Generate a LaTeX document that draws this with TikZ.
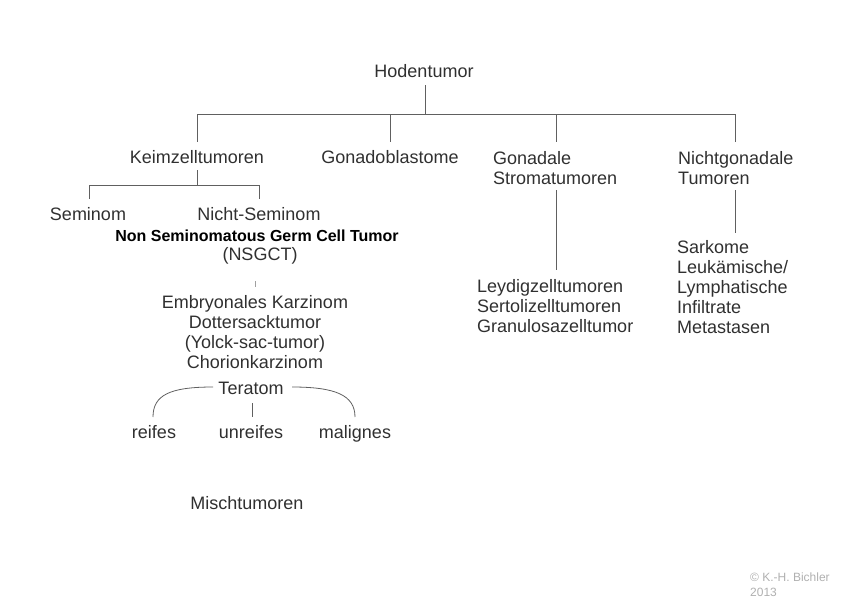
\documentclass[tikz,border=0pt]{standalone}
\usepackage{fontspec}
\setmainfont{Liberation Sans}
\definecolor{txtc}{HTML}{303030}
\definecolor{linec}{HTML}{606060}
\definecolor{copyc}{HTML}{B0B0B0}
\tikzset{
  txt/.style={font=\fontsize{18}{20}\selectfont, text=txtc, inner sep=0pt, anchor=base},
  txtl/.style={txt, anchor=base west, align=left},
  txtc/.style={txt, align=center},
  boldtxt/.style={font=\fontsize{16}{20}\selectfont\bfseries, text=black, inner sep=0pt, anchor=base},
  copytxt/.style={font=\fontsize{12}{15}\selectfont, text=copyc, inner sep=0pt, anchor=base west, align=left},
  conn/.style={draw=linec, line width=0.9pt},
  tick/.style={draw=linec!60, line width=0.8pt}
}
\begin{document}
\begin{tikzpicture}[x=1pt,y=-1pt]
\useasboundingbox (0,0) rectangle (849,600);
% nodes (multi-line nodes are placed by the baseline of their last line)
\node[txt] (hoden) at (424,77) {Hodentumor};
\node[txt] (keim) at (197,163) {Keimzelltumoren};
\node[txt] (gonado) at (390,163) {Gonadoblastome};
\node[txtl] (gonadale) at (493,184) {Gonadale\\Stromatumoren};
\node[txtl] (nichtgon) at (678,184) {Nichtgonadale\\Tumoren};
\node[txt] (semi) at (88,220) {Seminom};
\node[txt] (nsemi) at (259,220) {Nicht-Seminom};
\node[boldtxt] (nsgct) at (257,241) {Non Seminomatous Germ Cell Tumor};
\node[txt] (nsgctabbr) at (260,260) {(NSGCT)};
\node[txtc] (embryo) at (255,368) {Embryonales Karzinom\\Dottersacktumor\\(Yolck-sac-tumor)\\Chorionkarzinom};
\node[txt] (teratom) at (251,394) {Teratom};
\node[txt] (reifes) at (154,438) {reifes};
\node[txt] (unreifes) at (251,438) {unreifes};
\node[txt] (malignes) at (355,438) {malignes};
\node[txt] (misch) at (247,509) {Mischtumoren};
\node[txtl] (leydig) at (477,332) {Leydigzelltumoren\\Sertolizelltumoren\\Granulosazelltumor};
\node[txtl] (sarkome) at (677,333) {Sarkome\\Leukämische/\\Lymphatische\\Infiltrate\\Metastasen};
\node[copytxt] (copy) at (750,596) {© K.-H. Bichler\\2013};
% junction coordinates
\coordinate (hTop) at (425,85);
\coordinate (hBar) at (425,114);
\coordinate (barL) at (197,114);
\coordinate (barR) at (735,114);
\coordinate (kTop) at (197,142);
\coordinate (gTop) at (390,142);
\coordinate (gBar) at (390,114);
\coordinate (sTop) at (556,142);
\coordinate (sBar) at (556,114);
\coordinate (nTop) at (735,142);
\coordinate (kBot) at (197,170);
\coordinate (kBar) at (197,185);
\coordinate (ksL) at (89,185);
\coordinate (ksR) at (259,185);
\coordinate (semTop) at (89,199);
\coordinate (nsemTop) at (259,199);
\coordinate (stBot) at (556,190);
\coordinate (leyTop) at (556,270);
\coordinate (ngBot) at (735,190);
\coordinate (sarTop) at (735,233);
\coordinate (nsT1) at (255,281);
\coordinate (nsT2) at (255,287);
\coordinate (tL) at (213,387);
\coordinate (tR) at (292,387);
\coordinate (rTop) at (153,417);
\coordinate (mTop) at (355,417);
\coordinate (uT1) at (252,403);
\coordinate (uT2) at (252,417);
% connectors
\draw[conn] (hTop) -- (hBar);
\draw[conn] (nTop) -- (barR) -- (barL) -- (kTop);
\draw[conn] (gBar) -- (gTop);
\draw[conn] (sBar) -- (sTop);
\draw[conn] (kBot) -- (kBar);
\draw[conn] (semTop) -- (ksL) -- (ksR) -- (nsemTop);
\draw[conn] (stBot) -- (leyTop);
\draw[conn] (ngBot) -- (sarTop);
\draw[tick] (nsT1) -- (nsT2);
\draw[conn, line width=0.8pt] (tL) .. controls (170,387) and (153,395) .. (rTop);
\draw[conn, line width=0.8pt] (tR) .. controls (335,387) and (355,395) .. (mTop);
\draw[conn, line width=0.8pt] (uT1) -- (uT2);
\end{tikzpicture}
\end{document}
